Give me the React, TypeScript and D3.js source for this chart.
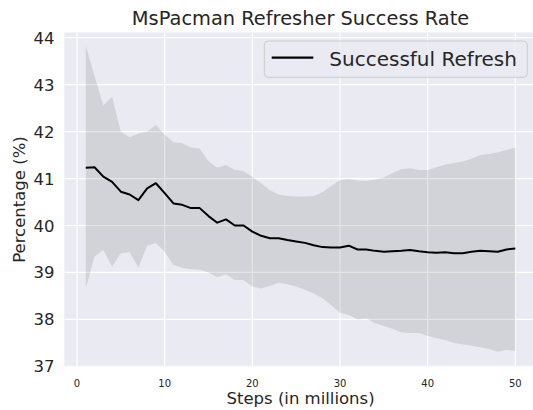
import * as d3 from "d3";

// steps in millions
const steps = d3.range(1, 51);

const successRate = [
  41.23, 41.24, 41.04, 40.93, 40.72, 40.66, 40.54, 40.79, 40.9, 40.69,
  40.47, 40.44, 40.37, 40.37, 40.2, 40.06, 40.13, 40.0, 40.0, 39.87,
  39.78, 39.73, 39.73, 39.69, 39.66, 39.63, 39.58, 39.54, 39.53, 39.53,
  39.57, 39.49, 39.49, 39.46, 39.44, 39.45, 39.46, 39.48, 39.45, 39.43,
  39.42, 39.43, 39.41, 39.41, 39.44, 39.46, 39.45, 39.44, 39.49, 39.51,
];

const upperBand = [
  43.82, 43.19, 42.56, 42.74, 42.0, 41.88, 41.96, 42.0, 42.14, 41.94,
  41.77, 41.75, 41.66, 41.64, 41.37, 41.23, 41.29, 41.18, 41.16, 41.04,
  40.9, 40.75, 40.66, 40.63, 40.62, 40.62, 40.63, 40.71, 40.84, 40.97,
  40.99, 40.96, 40.95, 40.98, 41.02, 41.12, 41.2, 41.22, 41.18, 41.18,
  41.24, 41.3, 41.33, 41.36, 41.42, 41.5, 41.52, 41.56, 41.61, 41.66,
];

const lowerBand = [
  38.66, 39.34, 39.48, 39.12, 39.41, 39.43, 39.1, 39.57, 39.63, 39.44,
  39.16, 39.1, 39.07, 39.06, 39.0, 38.9, 38.96, 38.84, 38.84, 38.7,
  38.66, 38.71, 38.78, 38.75, 38.7, 38.63, 38.55, 38.45, 38.3, 38.14,
  38.1, 38.0, 38.02, 37.92, 37.86, 37.8, 37.72, 37.71, 37.71, 37.65,
  37.6, 37.56, 37.5, 37.47, 37.44, 37.41, 37.37, 37.31, 37.35, 37.33,
];

const xTicks = [0, 10, 20, 30, 40, 50];
const yTicks = [37, 38, 39, 40, 41, 42, 43, 44];

const seriesName = "Successful Refresh";

export default function App() {
  const width = 533;
  const height = 410;
  const left = 64.3;
  const right = 536.8;
  const top = 32.5;
  const bottom = 366.6;
  const font = "DejaVu Sans, sans-serif";
  const textColor = "#262626";

  const x = d3.scaleLinear().domain([-1.45, 52.45]).range([left, right]);
  const y = d3.scaleLinear().domain([36.996, 44.109]).range([bottom, top]);

  const area = d3
    .area<number>()
    .x((_, i) => x(steps[i]))
    .y0((_, i) => y(lowerBand[i]))
    .y1((d) => y(d));

  const line = d3
    .line<number>()
    .x((_, i) => x(steps[i]))
    .y((d) => y(d));

  return (
    <svg
      width={width}
      height={height}
      style={{ position: "absolute", left: 0, top: 0, background: "#fff" }}
      fontFamily={font}
    >
      <defs>
        <clipPath id="plot">
          <rect x={left} y={top} width={right - left} height={bottom - top} />
        </clipPath>
      </defs>
      <rect x={left} y={top} width={right - left} height={bottom - top} fill="#eaeaf2" />
      <g clipPath="url(#plot)">
        {xTicks.map((t) => (
          <line key={"gx" + t} x1={x(t)} x2={x(t)} y1={top} y2={bottom} stroke="#fff" strokeWidth={1.2} />
        ))}
        {yTicks.map((t) => (
          <line key={"gy" + t} x1={left} x2={right} y1={y(t)} y2={y(t)} stroke="#fff" strokeWidth={1.2} />
        ))}
        <path d={area(upperBand) ?? ""} fill="#000" fillOpacity={0.1} />
        <path d={line(successRate) ?? ""} fill="none" stroke="#000" strokeWidth={2} strokeLinejoin="round" />
      </g>

      {xTicks.map((t) => (
        <text key={"tx" + t} x={x(t)} y={387} textAnchor="middle" fontSize={10} fill={textColor}>
          {t}
        </text>
      ))}
      {yTicks.map((t) => (
        <text key={"ty" + t} x={54.5} y={y(t) + 6} textAnchor="end" fontSize={16.5} fill={textColor}>
          {t}
        </text>
      ))}

      <text x={(left + right) / 2} y={25} textAnchor="middle" fontSize={19.4} fill={textColor}>
        MsPacman Refresher Success Rate
      </text>
      <text x={(left + right) / 2} y={404} textAnchor="middle" fontSize={16.5} fill={textColor}>
        Steps (in millions)
      </text>
      <text
        transform={`translate(25, ${(top + bottom) / 2}) rotate(-90)`}
        textAnchor="middle"
        fontSize={16.5}
        fill={textColor}
      >
        Percentage (%)
      </text>

      <g>
        <rect x={264.3} y={41} width={263} height={36.3} rx={4} fill="#eaeaf2" fillOpacity={0.8} stroke="#cccccc" strokeWidth={1} />
        <line x1={271.7} x2={313.3} y1={57.7} y2={57.7} stroke="#000" strokeWidth={2.2} />
        <text x={329.3} y={65.5} fontSize={20} fill={textColor}>
          {seriesName}
        </text>
      </g>
    </svg>
  );
}
